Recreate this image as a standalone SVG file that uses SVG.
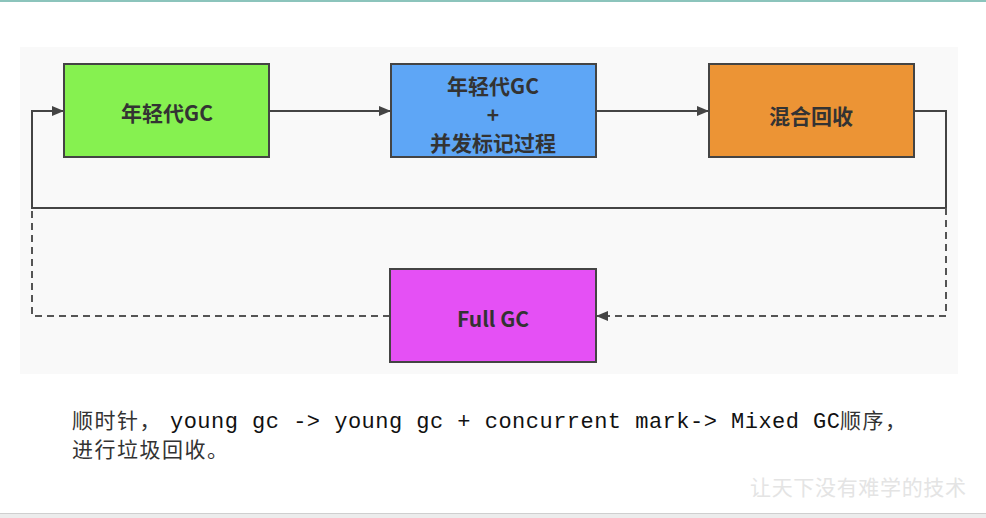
<svg xmlns="http://www.w3.org/2000/svg" width="986" height="518" viewBox="0 0 986 518">
<style>
.box{stroke:#444;stroke-width:2}
.lbl{font-family:"Noto Sans CJK SC","Noto Sans",sans-serif;font-weight:bold;font-size:21px;fill:#333;text-anchor:middle;dominant-baseline:central}
.solid{fill:none;stroke:#444;stroke-width:2}
.dash{fill:none;stroke:#555;stroke-width:2;stroke-dasharray:7 5}
.cjk{font-family:"Noto Sans CJK SC",sans-serif;font-size:21px;fill:#333;letter-spacing:1.5px}
.mono{font-family:"Liberation Mono","DejaVu Sans Mono",monospace;font-size:22px;fill:#111}
</style>
<defs>
<marker id="arr" viewBox="0 0 12 10" refX="12" refY="5" markerWidth="12" markerHeight="10" markerUnits="userSpaceOnUse" orient="auto">
<path d="M0,0 L12,5 L0,10 Z" fill="#444"/>
</marker>
</defs>
<rect x="0" y="0" width="986" height="518" fill="#ffffff"/>
<rect x="0" y="0" width="986" height="2" fill="#8cc4bc"/>
<rect x="20" y="47" width="938" height="327" fill="#f9f9f9"/>
<rect x="0" y="513" width="986" height="5" fill="#ececec"/>
<rect x="0" y="513" width="986" height="1" fill="#cfcfcf"/>

<g id="connectors">
<line class="solid" x1="269" y1="111" x2="391" y2="111" marker-end="url(#arr)"/>
<line class="solid" x1="596" y1="111" x2="709" y2="111" marker-end="url(#arr)"/>
<polyline class="solid" points="914,111 946,111 946,208 32,208 32,111 64,111" marker-end="url(#arr)"/>
<polyline class="dash" points="946,208 946,316 596,316" marker-end="url(#arr)"/>
<polyline class="dash" points="390,316 32,316 32,208"/>
</g>

<g id="young-gc">
<rect class="box" x="64" y="64" width="205" height="93" fill="#86f150"/>
<text class="lbl" x="167" y="112">年轻代GC</text>
</g>
<g id="young-gc-concurrent-mark">
<rect class="box" x="391" y="64" width="205" height="93" fill="#5ea6f6"/>
<text class="lbl" x="493" y="85">年轻代GC</text>
<text class="lbl" x="493" y="114">+</text>
<text class="lbl" x="493" y="142">并发标记过程</text>
</g>
<g id="mixed-gc">
<rect class="box" x="709" y="64" width="205" height="93" fill="#ec9435"/>
<text class="lbl" x="811" y="115">混合回收</text>
</g>
<g id="full-gc">
<rect class="box" x="390" y="269" width="206" height="93" fill="#e550f5"/>
<text class="lbl" x="493" y="318">Full GC</text>
</g>

<text class="cjk" x="72" y="428">顺时针，</text>
<text class="mono" x="170" y="428" textLength="670" lengthAdjust="spacing">young gc -&gt; young gc + concurrent mark-&gt; Mixed GC</text>
<text class="cjk" x="840" y="428">顺序，</text>
<text class="cjk" x="72" y="457">进行垃圾回收。</text>

<text x="750" y="495" font-family="Noto Sans CJK SC,sans-serif" font-size="21" fill="#e4e4e4" textLength="216" lengthAdjust="spacing">让天下没有难学的技术</text>
</svg>
